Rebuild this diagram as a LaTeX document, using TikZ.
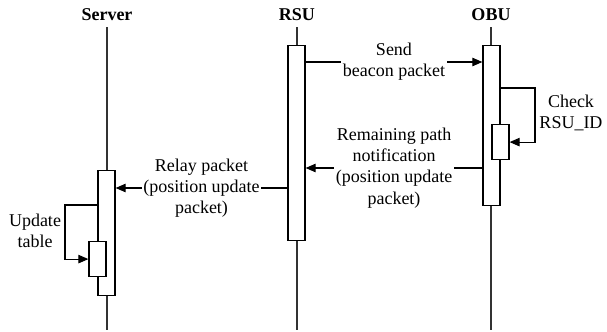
\documentclass[tikz,border=0pt]{standalone}
\usepackage{fontspec}
\setmainfont{Liberation Serif}
\usepackage{tikz}
\usetikzlibrary{arrows.meta,positioning}
\tikzset{
  life/.style={draw=black!80, line width=0.55pt},
  act/.style={draw=black, fill=white, line width=0.6pt, minimum width=8.5pt, inner sep=0pt, anchor=north},
  msg/.style={draw=black, line width=0.55pt, -{Triangle[length=5pt,width=4.2pt]}},
  lab/.style={align=center, fill=white, inner sep=0.8pt, font=\fontsize{9}{10.6}\selectfont},
  labn/.style={align=center, inner sep=0pt, font=\fontsize{9}{10.6}\selectfont},
  actor/.style={anchor=south, inner sep=3pt, font=\fontsize{9}{10.6}\selectfont\bfseries},
}

\begin{document}
\begin{tikzpicture}[x=0.5pt,y=-0.5pt]
  \useasboundingbox (0,0) rectangle (607,332);
  % lifelines
  \foreach \n/\t/\x in {server/Server/107,rsu/RSU/297,obu/OBU/491}{
    \node[actor] (\n) at (\x,27) {\t};
    \coordinate (\n-end) at (\x,330);
    \draw[life] (\n.south) -- (\n-end);
  }
  % activations
  \node[act, minimum height=62.5pt] (srvact) at (106.5,170) {};
  \node[act, minimum height=17.5pt] (srvchk) at (97.5,241) {};
  \node[act, minimum height=97.5pt] (rsuact) at (296.5,45) {};
  \node[act, minimum height=80pt] (obuact) at (491.5,45) {};
  \node[act, minimum height=17.5pt] (obuchk) at (500.5,124) {};
  % messages
  \draw[msg] (rsuact.east |- 0,62) -- node[lab] {Send\\beacon packet} (obuact.west |- 0,62);
  \draw[msg] (obuact.west |- 0,168) -- node[lab] {Remaining path\\notification\\(position update\\packet)} (rsuact.east |- 0,168);
  \draw[msg] (rsuact.west |- 0,188) -- node[lab] {Relay packet\\(position update\\packet)} (srvact.east |- 0,188);
  % self calls
  \draw[msg] (obuact.east |- 0,88) -- (535,88) |- (obuchk.east);
  \node[labn] (chk) at (571,113) {Check\\RSU\_ID};
  \draw[msg] (srvact.west |- 0,205) -- (65,205) |- (srvchk.west);
  \node[labn] (upd) at (35,231) {Update\\table};
\end{tikzpicture}
\end{document}
